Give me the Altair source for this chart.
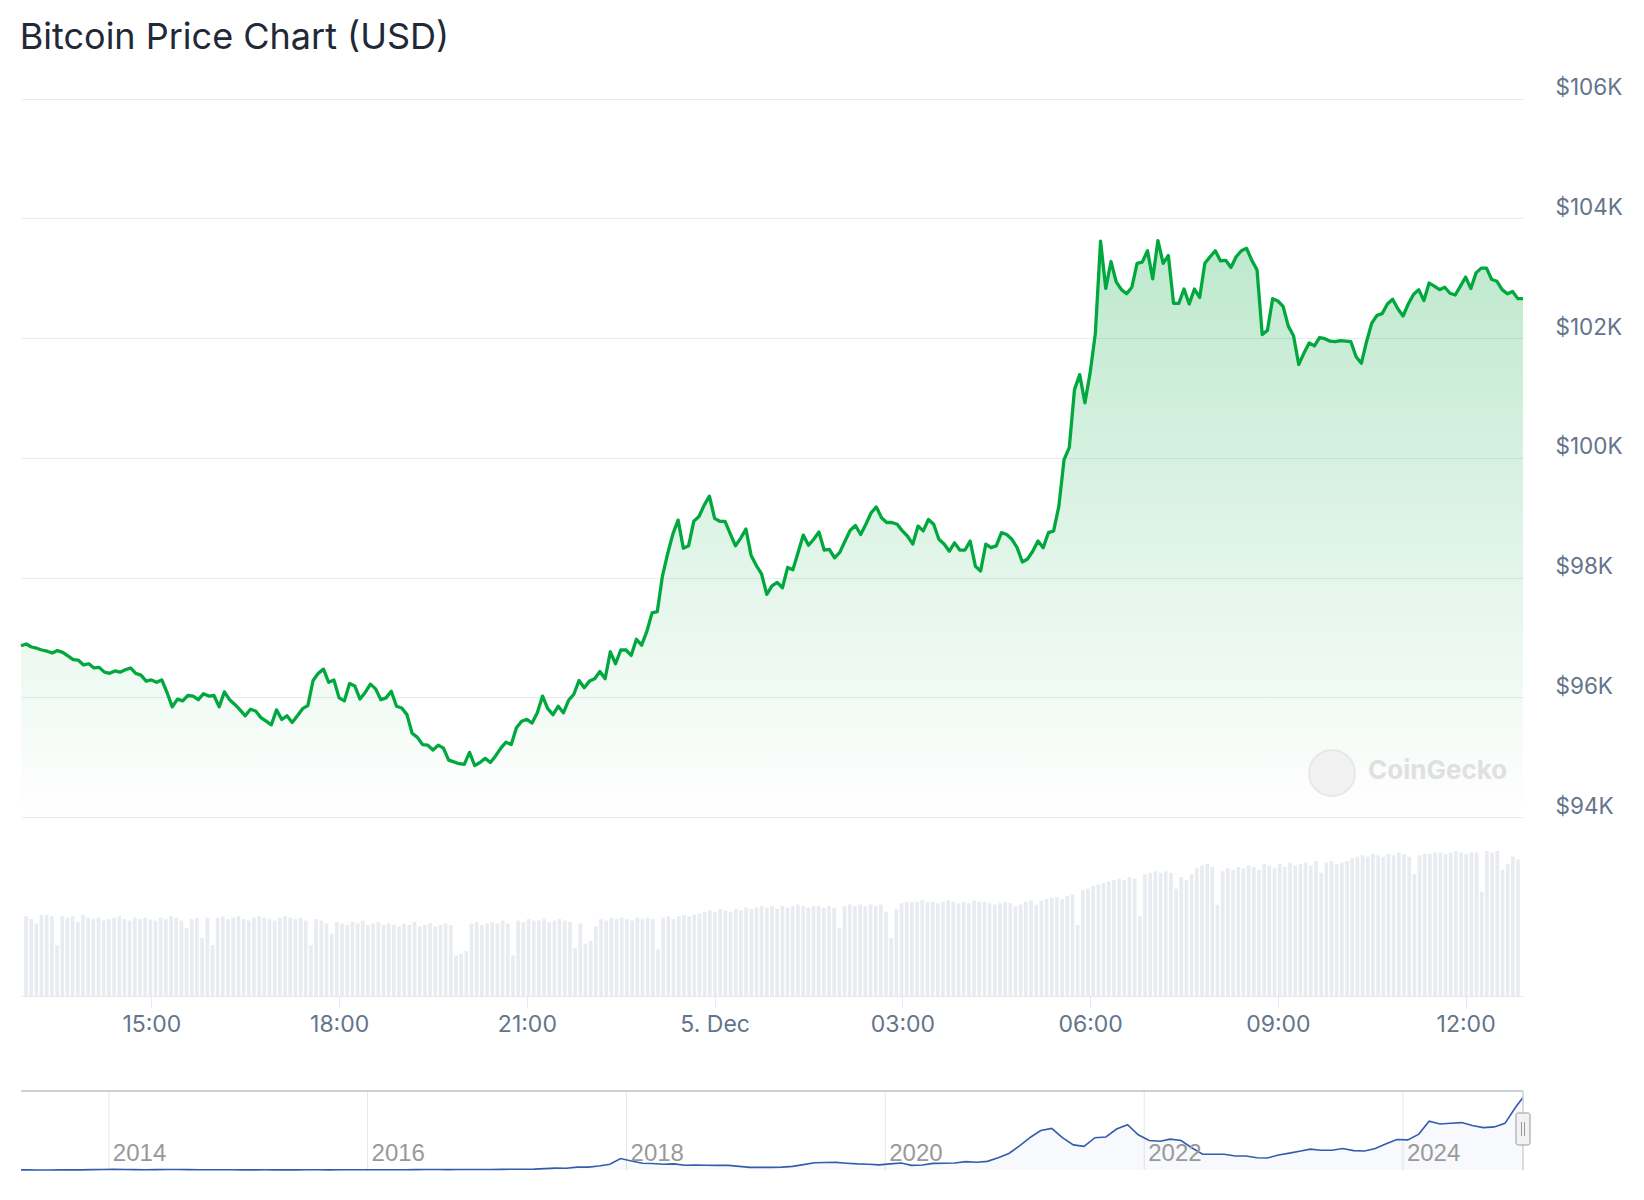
import altair as alt
import pandas as pd

# ---------------- data ----------------
TITLE = "Bitcoin Price Chart (USD)"
START = "2024-12-04 12:55"   # first 5-minute sample
STEP_MIN = 5

# BTC price in thousand USD, one value every 5 minutes
price_k = [
    96.86, 96.89, 96.84, 96.82, 96.79, 96.77, 96.74, 96.78, 96.75, 96.69,
    96.63, 96.62, 96.54, 96.56, 96.49, 96.50, 96.42, 96.40, 96.44, 96.42,
    96.46, 96.49, 96.40, 96.37, 96.27, 96.29, 96.25, 96.29, 96.08, 95.84,
    95.97, 95.94, 96.03, 96.02, 95.96, 96.06, 96.02, 96.03, 95.84, 96.09,
    95.96, 95.88, 95.79, 95.69, 95.80, 95.77, 95.66, 95.60, 95.54, 95.79,
    95.63, 95.69, 95.58, 95.69, 95.81, 95.86, 96.28, 96.40, 96.47, 96.25,
    96.29, 95.99, 95.94, 96.23, 96.19, 95.97, 96.08, 96.22, 96.14, 95.96,
    95.99, 96.10, 95.85, 95.82, 95.71,
    95.40, 95.33, 95.21, 95.20, 95.12, 95.20, 95.15, 94.95, 94.92, 94.89,
    94.88, 95.08, 94.86, 94.91, 94.98, 94.91, 95.02, 95.15, 95.25, 95.21,
    95.49, 95.60, 95.63, 95.57, 95.74, 96.02, 95.81, 95.71, 95.85, 95.74,
    95.95, 96.05, 96.28, 96.16, 96.27, 96.31, 96.43, 96.31, 96.76, 96.56,
    96.79, 96.79, 96.70, 96.97, 96.87, 97.10, 97.41, 97.43, 98.03, 98.40,
    98.73, 98.96, 98.49, 98.53, 98.94, 99.02, 99.21, 99.36, 98.99, 98.94,
    98.94, 98.73, 98.53, 98.66, 98.81, 98.37, 98.20, 98.06, 97.72, 97.86,
    97.92,
    97.83, 98.17, 98.13, 98.42, 98.71, 98.54, 98.64, 98.76, 98.46, 98.47,
    98.33, 98.42, 98.61, 98.79, 98.87, 98.72, 98.89, 99.08, 99.18, 99.00,
    98.92, 98.92, 98.89, 98.78, 98.69, 98.56, 98.86, 98.78, 98.97, 98.89,
    98.64, 98.56, 98.44, 98.58, 98.46, 98.46, 98.61, 98.19, 98.11, 98.56,
    98.50, 98.53, 98.75, 98.72, 98.64, 98.50, 98.26, 98.31, 98.44, 98.61,
    98.50, 98.75, 98.78, 99.19, 99.97, 100.17, 101.14, 101.39, 100.92, 101.42,
    102.08, 103.62, 102.83, 103.28, 102.94, 102.81, 102.74,
    102.85, 103.25, 103.27, 103.46, 102.99, 103.63, 103.25, 103.38, 102.58, 102.58,
    102.82, 102.57, 102.82, 102.68, 103.25, 103.36, 103.46, 103.29, 103.30, 103.18,
    103.36, 103.46, 103.50, 103.30, 103.14, 102.06, 102.13, 102.66, 102.62, 102.53,
    102.20, 102.04, 101.56, 101.75, 101.92, 101.87, 102.01, 101.99, 101.95, 101.94,
    101.96, 101.95, 101.94, 101.69, 101.58, 101.94, 102.25, 102.38, 102.41, 102.57,
    102.65, 102.49, 102.37, 102.57, 102.73, 102.81, 102.63, 102.92, 102.87, 102.81,
    102.85, 102.75, 102.72, 102.87, 103.02, 102.83, 103.09, 103.17, 103.17, 102.98,
    102.95, 102.81, 102.74, 102.78, 102.66, 102.66,
]

# traded volume per 5 minutes, relative (tallest bar = 100)
volume_rel = [
    55, 53, 50, 56, 56, 55, 35, 55, 54, 55, 51, 56,
    54, 53, 54, 52, 53, 54, 55, 53, 52, 54, 53, 54,
    53, 52, 54, 53, 55, 54, 52,
    47, 53, 54, 40, 54, 35,
    54, 55, 53, 54, 55, 53, 52, 54, 55, 54, 53, 52, 54, 55, 54, 53, 54, 52,
    35, 53, 52, 50, 43,
    51, 50, 49, 51, 50, 52, 49, 50, 51, 49, 50,
    49, 48, 50, 49, 51, 48, 49, 50, 48, 49, 50, 49,
    28, 29, 31,
    50, 51, 49, 50, 51, 50, 52, 50,
    28,
    52, 51, 53, 52, 52, 53, 51, 52, 53, 52, 51,
    33, 50, 36, 38, 48,
    53, 52, 54, 53, 54, 53, 52, 54, 53, 54, 53,
    32,
    54, 55, 53, 55, 56, 55, 56, 57,
    58, 59, 58, 60, 59, 58, 60, 59, 61, 60,
    61, 62, 61, 62, 60, 62, 61, 62, 63, 62,
    61, 62, 62, 61, 62, 61,
    47,
    62, 63, 62, 63, 62, 63, 62, 63, 58,
    40,
    60, 64, 65, 65, 65, 66, 65, 65, 64, 65, 66, 65, 64,
    65, 64, 66, 65, 65, 64, 63, 64, 65, 64,
    62, 63, 65, 66, 63, 66,
    67, 68, 68, 67, 69, 70,
    49,
    73, 74, 76, 77, 78,
    79, 80, 81, 80, 82, 81,
    55,
    84, 85, 86, 85, 86, 85,
    74, 82, 80, 84, 88, 90, 91, 89,
    63,
    86, 88, 87, 89, 88, 90, 89, 87, 91, 90, 88, 91, 89, 92, 90,
    91, 92, 90, 93, 85, 92, 93, 91, 92, 93,
    95, 96, 97, 96, 98, 97, 96, 98, 97, 99, 98, 96, 84, 97, 98,
    98, 99, 99, 98, 99, 100, 99, 98, 99, 99,
    72,
    100, 99, 100,
    87,
    91, 96, 94,
]

x_tick_times = [
    "2024-12-04 15:00", "2024-12-04 18:00", "2024-12-04 21:00", "2024-12-05 00:00",
    "2024-12-05 03:00", "2024-12-05 06:00", "2024-12-05 09:00", "2024-12-05 12:00",
]
y_tick_k = [94, 96, 98, 100, 102, 104, 106]

# navigator: full price history (USD), monthly from May 2013
nav_first = ("2013-04-28", 135)
nav_month0 = (2013, 5)
nav_monthly = [
    120, 105, 90, 110, 130, 160, 500, 750,
    850, 620, 560, 450, 500, 610, 610, 520, 440, 370, 370, 340,
    240, 240, 270, 235, 237, 240, 280, 250, 235, 270, 350, 430,
    410, 400, 415, 435, 460, 640, 660, 580, 605, 640, 730, 800,
    900, 1050, 1100, 1250, 1900, 2600, 2500, 4000, 4000, 5500, 8000, 16000,
    12500, 9500, 9000, 8000, 8500, 6700, 7000, 6600, 6500, 6400, 5000, 3600,
    3600, 3700, 4000, 5000, 7500, 10000, 10500, 10600, 9500, 8500, 8000, 7200,
    8500, 9700, 6500, 7000, 9200, 9500, 9800, 11700, 10700, 12000, 17000, 23000,
    34000, 46000, 55000, 58000, 45000, 35000, 33000, 45000, 46000, 57000, 63000, 49000,
    41000, 40000, 43000, 41000, 31000, 22000, 22000, 22000, 19500, 19500, 17000, 16800,
    21000, 23500, 26000, 29000, 27500, 27500, 30000, 27000, 26500, 30000, 36500, 42500,
    42000, 50000, 68000, 64000, 65000, 66000, 62000, 59000, 60000, 65000, 88000,
]
nav_last = ("2024-12-05", 101000)
nav_year_ticks = ["2014", "2016", "2018", "2020", "2022", "2024"]

# ---------------- helpers ----------------
def ms(s):
    return int(pd.Timestamp(s, tz="UTC").timestamp() * 1000)

t0 = ms(START)
main_df = pd.DataFrame({
    "time": [t0 + i * STEP_MIN * 60000 for i in range(len(price_k))],
    "price": price_k,
    "volume": volume_rel,
})
t_end = t0 + 24 * 60 * 60000

nav_dates = [nav_first[0]]
yy, mm = nav_month0
for _ in nav_monthly:
    nav_dates.append(f"{yy}-{mm:02d}-15")
    mm += 1
    if mm > 12:
        mm = 1
        yy += 1
nav_dates.append(nav_last[0])
nav_df = pd.DataFrame({
    "date": [ms(d) for d in nav_dates],
    "price": [nav_first[1]] + nav_monthly + [nav_last[1]],
})
nav_years_df = pd.DataFrame({
    "date": [ms(f"{y}-01-01") for y in nav_year_ticks],
    "label": nav_year_ticks,
})
one = pd.DataFrame({"k": [0]})

# ---------------- layout (px inside plot group) ----------------
W = 1502
H = 1100
PRICE_RANGE = [737, 18.7]
VOL_RANGE = [916, 771]
NAV_RANGE = [1090, 1011]

def xs():
    return alt.Scale(type="utc", domain=[t0, t_end], range=[0, W])

def nav_xs():
    return alt.Scale(type="utc", domain=[ms(nav_first[0]), ms(nav_last[0])], range=[0, W])

def price_scale():
    return alt.Scale(domain=[94, 106], range=PRICE_RANGE, zero=False, nice=False)

LABEL_COLOR = "#64748b"
FONT = "Inter"

x_axis = alt.Axis(
    values=[ms(t) for t in x_tick_times],
    labelExpr="utchours(datum.value) == 0 ? utcFormat(datum.value, '%-d. %b') : utcFormat(datum.value, '%H:%M')",
    offset=-(H - VOL_RANGE[0]), grid=False, domain=True, domainColor="#e6e9ee",
    ticks=True, tickSize=12, tickColor="#e6e9ee", labelPadding=5,
    labelFont=FONT, labelFontSize=23, labelColor=LABEL_COLOR,
    labelFlush=False, labelOverlap=False, title=None,
)
y_axis = alt.Axis(
    orient="right", values=y_tick_k,
    labelExpr="'$' + datum.value + 'K'",
    grid=True, gridColor="#e9ecef", gridWidth=1,
    domain=False, ticks=False, labelPadding=32, labelAlign="left",
    labelBaseline="middle", labelOffset=-11,
    labelFont=FONT, labelFontSize=22.5, labelColor=LABEL_COLOR, title=None,
)

base = alt.Chart(main_df)

volume = base.mark_bar(width=3.7, color="#e8ecf1").encode(
    x=alt.X("time:T", scale=xs(), axis=None),
    y=alt.Y("volume:Q", scale=alt.Scale(domain=[0, 100], range=VOL_RANGE), axis=None),
)

grad = alt.Gradient(
    gradient="linear",
    stops=[alt.GradientStop(color="rgba(0,168,62,0.26)", offset=0),
           alt.GradientStop(color="rgba(0,168,62,0)", offset=1)],
    x1=1, x2=1, y1=0, y2=1,
)
area = base.mark_area(color=grad).encode(
    x=alt.X("time:T", scale=xs(), axis=x_axis),
    y=alt.Y("price:Q", scale=price_scale(), axis=y_axis),
    y2=alt.datum(94),
)
line = base.mark_line(color="#00a83e", strokeWidth=3.3, strokeJoin="round").encode(
    x=alt.X("time:T", scale=xs(), axis=None),
    y=alt.Y("price:Q", scale=price_scale(), axis=None),
)

logo = alt.Chart(one).mark_point(
    shape="circle", filled=True, size=2100, color="#f2f2f2", stroke="#e8e8e8", strokeWidth=2, opacity=1
).encode(x=alt.value(1311), y=alt.value(693))
watermark = alt.Chart(one).mark_text(
    text="CoinGecko", font=FONT, fontSize=26, fontWeight="bold", color="#e0e0e0",
    align="left", baseline="middle",
).encode(x=alt.value(1347), y=alt.value(691))

nav_grid = alt.Chart(nav_years_df).mark_rule(color="#e6e6e6", strokeWidth=1).encode(
    x=alt.X("date:T", scale=nav_xs(), axis=None),
    y=alt.value(NAV_RANGE[1]), y2=alt.value(NAV_RANGE[0]),
)
nav_labels = alt.Chart(nav_years_df).mark_text(
    align="left", baseline="middle", dx=4, font="Liberation Sans", fontSize=24, color="#999999",
).encode(
    x=alt.X("date:T", scale=nav_xs(), axis=None),
    y=alt.value(1074), text="label:N",
)
nav_area = alt.Chart(nav_df).mark_area(color="#335cad", opacity=0.04).encode(
    x=alt.X("date:T", scale=nav_xs(), axis=None),
    y=alt.Y("price:Q", scale=alt.Scale(domain=[0, 110000], range=NAV_RANGE), axis=None),
    y2=alt.datum(0),
)
nav_line = alt.Chart(nav_df).mark_line(color="#335cad", strokeWidth=1.6).encode(
    x=alt.X("date:T", scale=nav_xs(), axis=None),
    y=alt.Y("price:Q", scale=alt.Scale(domain=[0, 110000], range=NAV_RANGE), axis=None),
)
nav_top = alt.Chart(one).mark_rule(color="#ccd0d7", strokeWidth=2).encode(
    x=alt.value(0), x2=alt.value(W), y=alt.value(NAV_RANGE[1]),
)
nav_right = alt.Chart(one).mark_rule(color="#ccd0d7", strokeWidth=1.5).encode(
    x=alt.value(W), y=alt.value(NAV_RANGE[1]), y2=alt.value(NAV_RANGE[0]),
)
handle = alt.Chart(one).mark_rect(
    fill="#f2f2f2", stroke="#999999", strokeWidth=1, cornerRadius=2
).encode(x=alt.value(W - 7), x2=alt.value(W + 7), y=alt.value(1033), y2=alt.value(1065))
grip = alt.Chart(pd.DataFrame({"gx": [W - 1.5, W + 1.5]})).mark_rule(
    color="#999999", strokeWidth=1
).encode(x=alt.X("gx:Q", scale=alt.Scale(domain=[0, W], range=[0, W]), axis=None),
         y=alt.value(1042), y2=alt.value(1056))

chart = alt.layer(
    volume, area, line, logo, watermark,
    nav_grid, nav_area, nav_line, nav_labels, nav_top, nav_right, handle, grip,
).resolve_scale(
    x="independent", y="independent"
).properties(
    width=W, height=H,
    title=alt.TitleParams(
        TITLE, anchor="start", font=FONT, fontSize=36, fontWeight="normal",
        color="#1f2937", offset=20, dx=2,
    ),
    padding={"left": 13, "top": 72, "right": 113, "bottom": 0},
    autosize=alt.AutoSizeParams(type="none"),
    background="white",
).configure_view(stroke=None)

chart.save("out.html", embed_options={"renderer": "svg", "actions": False})
